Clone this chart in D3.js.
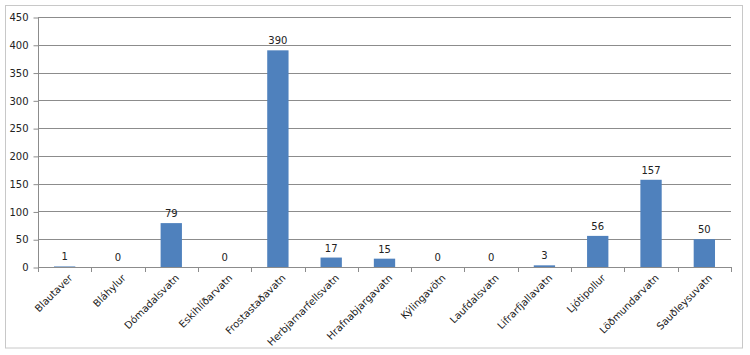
<!DOCTYPE html>
<html>
<head>
<meta charset="utf-8">
<script src="https://cdn.jsdelivr.net/npm/d3@7"></script>
<style>
  body { margin: 0; background: #fff; }
  text { font-family: "DejaVu Sans", sans-serif; }
</style>
</head>
<body>
<div id="chart"></div>
<script>
const categories = ["Blautaver", "Bláhylur", "Dómadalsvatn", "Eskihlíðarvatn", "Frostastaðavatn",
  "Herbjarnarfellsvatn", "Hrafnabjargavatn", "Kýlingavötn", "Laufdalsvatn", "Lifrarfjallavatn",
  "Ljótipollur", "Löðmundarvatn", "Sauðleysuvatn"];
const values = [1, 0, 79, 0, 390, 17, 15, 0, 0, 3, 56, 157, 50];
const yTicks = [0, 50, 100, 150, 200, 250, 300, 350, 400, 450];

const width = 750, height = 355;
const svg = d3.select("#chart").append("svg")
  .attr("width", width).attr("height", height);

// outer chart border
svg.append("rect")
  .attr("x", 5.5).attr("y", 5.5)
  .attr("width", 737).attr("height", 342.5)
  .attr("fill", "#fff").attr("stroke", "#c8c8c8").attr("stroke-width", 1);

const x = d3.scaleBand().domain(categories).range([38, 731]).paddingInner(0.6).paddingOuter(0.3);
const xb = d3.scaleBand().domain(categories).range([38, 731]);
const y = d3.scaleLinear().domain([0, 450]).range([267, 17]);

// gridlines
svg.append("g").selectAll("line").data(yTicks.slice(1)).enter().append("line")
  .attr("x1", 38).attr("x2", 731)
  .attr("y1", d => Math.round(y(d)) + 0.5).attr("y2", d => Math.round(y(d)) + 0.5)
  .attr("stroke", "#8c8c8c").attr("stroke-width", 1);

// y axis
const yAxis = svg.append("g").attr("transform", "translate(38.5,0.5)")
  .call(d3.axisLeft(y).tickValues(yTicks).tickSize(5).tickPadding(5));
yAxis.select(".domain").attr("stroke", "#8c8c8c").attr("d", `M0,${y(450)}V${y(0)}`);
yAxis.selectAll(".tick line").attr("stroke", "#8c8c8c");
yAxis.selectAll(".tick text").attr("font-size", 10).attr("fill", "#222")
  .attr("font-family", "DejaVu Sans, sans-serif");

// bars
svg.append("g").selectAll("rect").data(values).enter().append("rect")
  .attr("x", (d, i) => x(categories[i]))
  .attr("width", x.bandwidth())
  .attr("y", d => y(d))
  .attr("height", d => y(0) - y(d))
  .attr("fill", "#4f81bd");

// x axis line and ticks
const xg = svg.append("g");
xg.append("line").attr("x1", 38).attr("x2", 731)
  .attr("y1", Math.round(y(0)) + 0.5).attr("y2", Math.round(y(0)) + 0.5)
  .attr("stroke", "#8c8c8c");
xg.selectAll("line.tk").data(categories.concat(["end"])).enter().append("line")
  .attr("class", "tk")
  .attr("x1", (d, i) => Math.round(38 + i * xb.bandwidth()) + 0.5)
  .attr("x2", (d, i) => Math.round(38 + i * xb.bandwidth()) + 0.5)
  .attr("y1", y(0)).attr("y2", y(0) + 5)
  .attr("stroke", "#8c8c8c");

// category labels rotated
xg.selectAll("text").data(categories).enter().append("text")
  .attr("transform", d => `translate(${xb(d) + xb.bandwidth() / 2 + 6},${y(0) + 9}) rotate(-45)`)
  .attr("text-anchor", "end")
  .attr("dy", "0.35em")
  .attr("font-size", 10)
  .attr("fill", "#222")
  .text(d => d);

// data labels
svg.append("g").selectAll("text").data(values).enter().append("text")
  .attr("x", (d, i) => x(categories[i]) + x.bandwidth() / 2)
  .attr("y", d => y(d) - 6)
  .attr("text-anchor", "middle")
  .attr("font-size", 10)
  .attr("fill", "#222")
  .text(d => d);
</script>
</body>
</html>
